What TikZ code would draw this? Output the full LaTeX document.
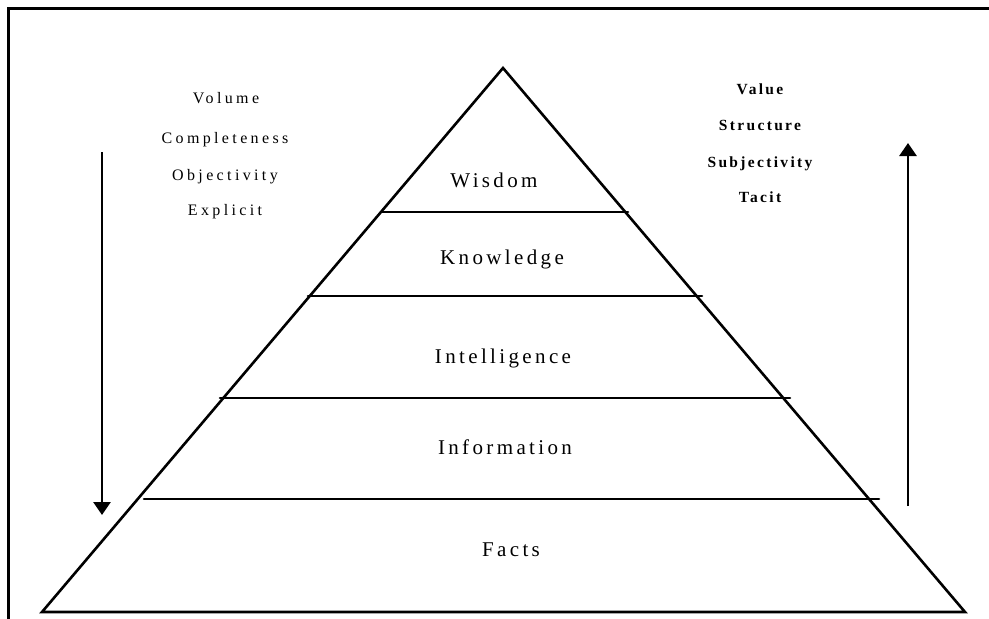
\documentclass[tikz,border=0pt]{standalone}
\usepackage{fontspec}
\setmainfont{Liberation Serif}
\newfontfamily\pyrfont[LetterSpace=16]{Liberation Serif}
\newfontfamily\sidefont[LetterSpace=21]{Liberation Serif}
\newfontfamily\sideboldfont[LetterSpace=15,BoldFont={Liberation Serif Bold}]{Liberation Serif}
\usetikzlibrary{arrows.meta}
\tikzset{
  pyrline/.style={line width=2.6pt, line cap=round, line join=miter},
  frameline/.style={line width=3pt},
  bigarrow/.style={line width=2.8pt, -{Triangle[width=17pt,length=13pt]}},
  pyrlabel/.style={anchor=base, inner sep=0pt, font=\fontsize{21}{24}\pyrfont},
  leftlabel/.style={anchor=base, inner sep=0pt, font=\fontsize{16}{19}\sidefont},
  rightlabel/.style={anchor=base, inner sep=0pt, font=\fontsize{15.5}{18}\sideboldfont\bfseries},
}
\begin{document}
\begin{tikzpicture}[x=1pt,y=-1pt]
\useasboundingbox (0,0) rectangle (989,619);
% frame
\coordinate (fTL) at (8,8);
\coordinate (fTR) at (989,8);
\coordinate (fBL) at (8,619);
\draw[frameline] (fTR) -- (fTL) -- (fBL);
% pyramid
\coordinate (apex) at (503,68);
\coordinate (bl) at (42,612);
\coordinate (br) at (965,612);
\draw[pyrline] (bl) -- (apex) -- (br) -- cycle;
% dividers
\coordinate (d1l) at (382,212); \coordinate (d1r) at (628,212);
\coordinate (d2l) at (308,296); \coordinate (d2r) at (702,296);
\coordinate (d3l) at (220,398); \coordinate (d3r) at (790,398);
\coordinate (d4l) at (144,499); \coordinate (d4r) at (879,499);
\draw[pyrline] (d1l) -- (d1r);
\draw[pyrline] (d2l) -- (d2r);
\draw[pyrline] (d3l) -- (d3r);
\draw[pyrline] (d4l) -- (d4r);
% level labels
\node[pyrlabel] (wis) at (494,187) {Wisdom};
\node[pyrlabel] (kno) at (502,264) {Knowledge};
\node[pyrlabel] (int) at (503,363) {Intelligence};
\node[pyrlabel] (inf) at (505,454) {Information};
\node[pyrlabel] (fac) at (511,556) {Facts};
% left column
\node[leftlabel] (vol) at (226,103) {Volume};
\node[leftlabel] (com) at (225,143) {Completeness};
\node[leftlabel] (obj) at (225,180) {Objectivity};
\node[leftlabel] (exp) at (225,215) {Explicit};
% right column
\node[rightlabel] (val) at (760,94) {Value};
\node[rightlabel] (str) at (760,130) {Structure};
\node[rightlabel] (sub) at (760,167) {Subjectivity};
\node[rightlabel] (tac) at (760,202) {Tacit};
% arrows
\coordinate (la0) at (102,152); \coordinate (la1) at (102,515);
\coordinate (ra0) at (908,506); \coordinate (ra1) at (908,143);
\draw[bigarrow] (la0) -- (la1);
\draw[bigarrow] (ra0) -- (ra1);
\end{tikzpicture}
\end{document}
